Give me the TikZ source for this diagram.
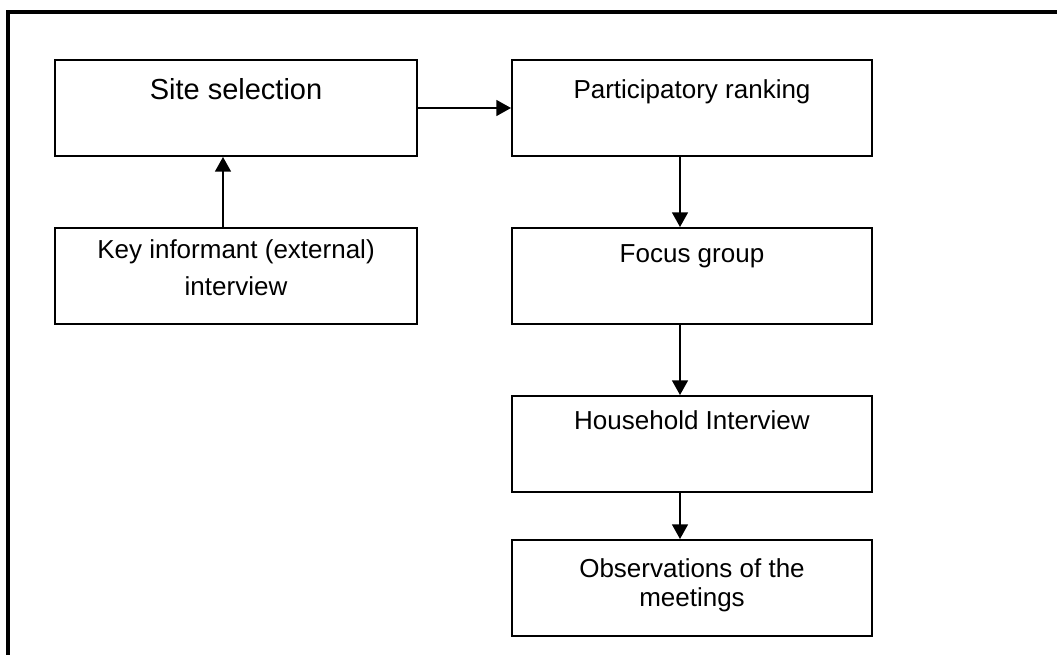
\documentclass[tikz,border=0pt]{standalone}
\usepackage{fontspec}
\setmainfont{Liberation Sans}
\usetikzlibrary{arrows.meta}

% #1 font size, #2 drop from the top edge to the first baseline, #3 line pitch, #4 text
\newcommand\cardtext[4]{%
  \parbox[c][72pt][t]{270pt}{\centering\fontsize{#1}{#3}\selectfont\rule{0pt}{#2}#4\par}}

\begin{document}
\begin{tikzpicture}[x=0.75pt,y=-0.75pt,
  card/.style={draw, line width=1.5pt, inner sep=0pt, minimum width=270pt, minimum height=72pt},
  wide/.style={minimum width=271.5pt},
  flow/.style={line width=1.1pt, -{Triangle[length=11pt,width=12pt]}},
  frame/.style={line width=3pt, line join=miter}]
\useasboundingbox (0,0) rectangle (1057,655);

% page frame
\draw[frame] (8,655) -- (8,12) -- (1057,12);

% left column
\node[card, wide] (site) at (236,108) {\cardtext{21.75pt}{29.5pt}{26pt}{Site selection}};
\node[card, wide] (key)  at (236,276) {\cardtext{19.5pt}{22.7pt}{28pt}{Key informant (external)\\interview}};

% right column
\node[card] (rank)  at (692,108) {\cardtext{19.5pt}{28.7pt}{23pt}{Participatory ranking}};
\node[card] (focus) at (692,276) {\cardtext{19.5pt}{26pt}{23pt}{Focus group}};
\node[card] (house) at (692,444) {\cardtext{19.5pt}{25.5pt}{23pt}{Household Interview}};
\node[card] (obs)   at (692,588) {\cardtext{19.5pt}{28pt}{21.5pt}{Observations of the\\meetings}};

% connectors
\draw[flow] ([xshift=-9.75pt]key.north) -- ([xshift=-9.75pt]site.south);
\draw[flow] (site.east) -- (rank.west);
\draw[flow] ([xshift=-9pt]rank.south) -- ([xshift=-9pt]focus.north);
\draw[flow] ([xshift=-9pt]focus.south) -- ([xshift=-9pt]house.north);
\draw[flow] ([xshift=-9pt]house.south) -- ([xshift=-9pt]obs.north);
\end{tikzpicture}
\end{document}
